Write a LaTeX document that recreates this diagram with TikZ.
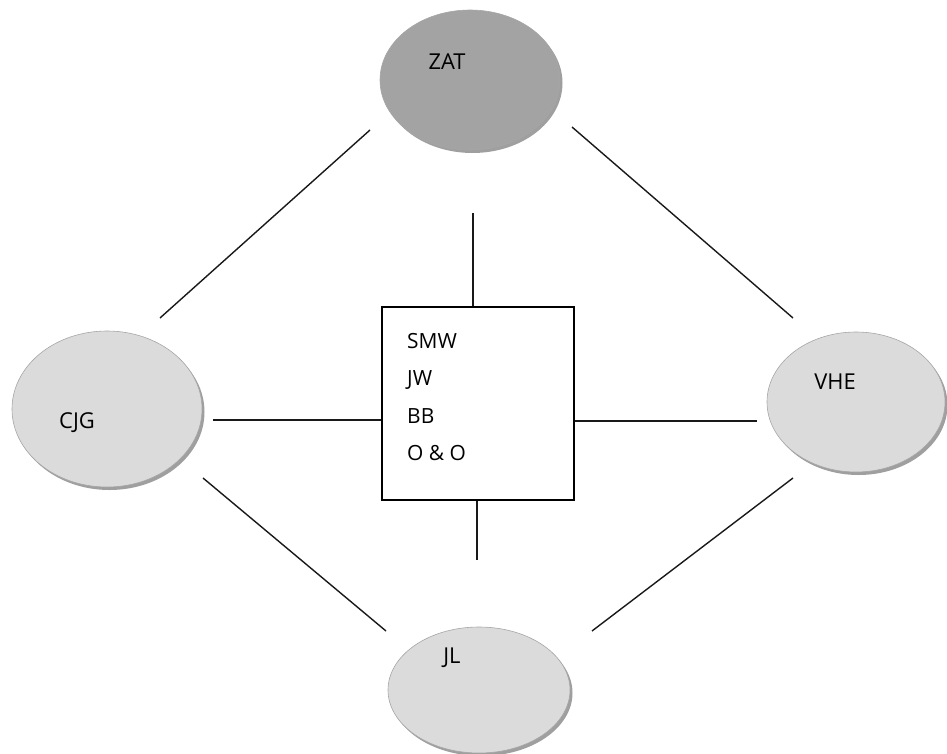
\documentclass[tikz,border=0pt]{standalone}
\usepackage{fontspec}
\setmainfont{Open Sans}
\usetikzlibrary{shapes.geometric,shadows}
\begin{document}
\begin{tikzpicture}[x=1bp,y=-1bp,
  blob/.style={ellipse,draw=gray!70,line width=0.6bp,inner sep=0pt,
    drop shadow={shadow xshift=2.5bp,shadow yshift=-3bp,fill=gray!75,opacity=1}},
  darkblob/.style={blob,fill=black!36},
  lightblob/.style={blob,fill=black!14},
  lbl/.style={font=\fontsize{22}{26}\selectfont,inner sep=0pt},
  link/.style={line width=1.4bp,black!90}]
\useasboundingbox (0,0) rectangle (947,754);
\node[darkblob,minimum width=180bp,minimum height=140bp] (zat) at (470,80) {};
\node[lightblob,minimum width=190bp,minimum height=156bp] (cjg) at (107,409) {};
\node[lightblob,minimum width=178bp,minimum height=140bp] (vhe) at (856,402) {};
\node[lightblob,minimum width=182bp,minimum height=126bp] (jl) at (479,690) {};
\node[lbl] (tzat) at (447,62) {ZAT};
\node[lbl] (tcjg) at (77,423) {CJG};
\node[lbl] (tvhe) at (835,382) {VHE};
\node[lbl] (tjl) at (452,658) {JL};
\node[draw,line width=1.5bp,minimum width=192bp,minimum height=193bp,inner sep=0pt] (box) at (478,403.5) {};
\node[lbl,anchor=west,align=left,font=\fontsize{21}{37.7}\selectfont] (list) at (407,397) {SMW\\JW\\BB\\O \& O};
% connector end points
\coordinate (a1) at (473,213);
\coordinate (a2) at (477,560);
\coordinate (a3) at (213,420);
\coordinate (a4) at (757,421);
\coordinate (z1) at (370,130);
\coordinate (c1) at (160,318);
\coordinate (z2) at (572,127);
\coordinate (v1) at (793,318);
\coordinate (c2) at (203,478);
\coordinate (j1) at (386,631);
\coordinate (v2) at (793,478);
\coordinate (j2) at (592,631);
\draw[link] (a1) -- (box.north -| a1);
\draw[link] (box.south -| a2) -- (a2);
\draw[link] (a3) -- (box.west |- a3);
\draw[link] (box.east |- a4) -- (a4);
\draw[link] (z1) -- (c1);
\draw[link] (z2) -- (v1);
\draw[link] (c2) -- (j1);
\draw[link] (v2) -- (j2);
\end{tikzpicture}
\end{document}
